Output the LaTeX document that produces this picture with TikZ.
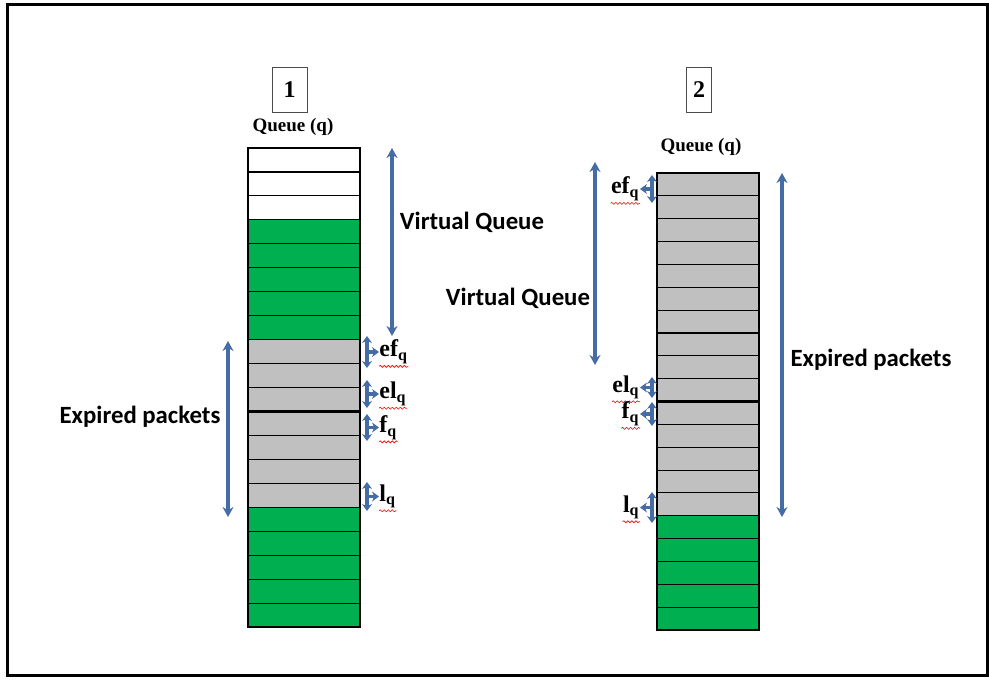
\documentclass[tikz,border=0pt]{standalone}
\usepackage{fontspec}
\setmainfont{Liberation Serif}
\newfontfamily\calibri{Carlito}
\usepackage{tikz}
\usetikzlibrary{arrows.meta, calc, decorations.pathmorphing}
\definecolor{qgreen}{RGB}{0, 176, 80}
\definecolor{qgray}{RGB}{192, 192, 192}
\definecolor{arrowblue}{RGB}{70, 108, 166}

\begin{document}
\begin{tikzpicture}[
    x=0.5pt, y=-0.5pt,
    cellone/.style={
        rectangle, draw, line width=0.55pt, inner sep=0pt, outer sep=0pt,
        anchor=north west, minimum width=56pt, minimum height=11.975pt
    },
    celltwo/.style={
        rectangle, draw, line width=0.55pt, inner sep=0pt, outer sep=0pt,
        anchor=north west, minimum width=51pt, minimum height=11.425pt
    },
    numbox/.style={draw=black!70, line width=0.5pt, minimum height=22.5pt, inner sep=0pt,
        font=\bfseries\fontsize{12}{14}\selectfont},
    qtitle/.style={font=\bfseries\fontsize{9.5}{11}\selectfont},
    bigtext/.style={font=\calibri\bfseries\fontsize{12.4}{14}\selectfont},
    ptrtext/.style={inner sep=0pt, font=\bfseries\fontsize{12}{14}\selectfont},
    span/.style={<->, >={Stealth[length=5pt, width=5.5pt]}, arrowblue, line width=1.9pt},
    ptr/.style={<->, >={Stealth[length=3.5pt, width=5pt]}, arrowblue, line width=1.7pt},
    tip/.style={->, >={Stealth[length=3.5pt, width=5pt]}, arrowblue, line width=1.9pt},
    spell/.style={red, line width=0.3pt, decorate,
        decoration={snake, amplitude=0.5pt, segment length=2pt}}
]

\useasboundingbox (0,0) rectangle (990,680);

% Frame
\draw[line width=1.5pt] (7,4) rectangle (987,675);

% Queue 1
\foreach \c [count=\i from 0] in {white,white,white,qgreen,qgreen,qgreen,qgreen,qgreen,
    qgray,qgray,qgray,qgray,qgray,qgray,qgray,qgreen,qgreen,qgreen,qgreen,qgreen}
    \node[cellone, fill=\c] (qa\i) at (248, 148+\i*23.95) {};
\draw[line width=1.3pt] (qa11.north west) rectangle (qa19.south east);

% Queue 2
\foreach \c [count=\i from 0] in {qgray,qgray,qgray,qgray,qgray,qgray,qgray,qgray,qgray,qgray,
    qgray,qgray,qgray,qgray,qgray,qgreen,qgreen,qgreen,qgreen,qgreen}
    \node[celltwo, fill=\c] (qb\i) at (657, 173+\i*22.85) {};
\draw[line width=1.3pt] (qb10.north west) rectangle (qb19.south east);

% Titles
\node[numbox, minimum width=17.5pt] (numa) at (289.5, 89.5) {1};
\node[numbox, minimum width=12.5pt] (numb) at (699, 90) {2};
\node[qtitle] (titlea) at (293, 127) {Queue (q)};
\node[qtitle] (titleb) at (701, 147) {Queue (q)};

% Labels
\node[bigtext] (vqa) at (472, 222) {Virtual Queue};
\node[bigtext] (vqb) at (518, 298) {Virtual Queue};
\node[bigtext] (expa) at (140, 417) {Expired packets};
\node[bigtext] (expb) at (871, 360) {Expired packets};

% Spans
\coordinate (vqatop) at (392, 148);
\coordinate (vqabot) at (392, 336);
\coordinate (expatop) at (228, 341);
\coordinate (expabot) at (228, 517);
\coordinate (vqbtop) at (595, 162);
\coordinate (vqbbot) at (595, 365);
\coordinate (expbtop) at (782, 173);
\coordinate (expbbot) at (782, 517);
\draw[span] (vqatop) -- (vqabot);
\draw[span] (expatop) -- (expabot);
\draw[span] (vqbtop) -- (vqbbot);
\draw[span] (expbtop) -- (expbbot);

% Pointers, queue 1
\foreach \nm/\lab/\ya/\yb in {efa/ef/336/368, ela/el/380/408, fa/f/414/441, la/l/482/511}{
    \coordinate (\nm-top) at (367, \ya);
    \coordinate (\nm-bot) at (367, \yb);
    \coordinate (\nm-mid) at (367, {(\ya+\yb)/2});
    \node[ptrtext, anchor=west] (\nm) at (379, {(\ya+\yb)/2}) {\lab\textsubscript{q}};
    \draw[ptr] (\nm-top) -- (\nm-bot);
    \draw[tip] (\nm-mid) -- (\nm.west);
    \draw[spell] ($(\nm.south west)+(0,2)$) -- ($(\nm.south east)+(0,2)$);
}

% Pointers, queue 2
\foreach \nm/\lab/\ya/\yb in {efb/ef/175/203, elb/el/377/398, fb/f/402/426, lb/l/492/523}{
    \coordinate (\nm-top) at (652, \ya);
    \coordinate (\nm-bot) at (652, \yb);
    \coordinate (\nm-mid) at (652, {(\ya+\yb)/2});
    \node[ptrtext, anchor=east] (\nm) at (640, {(\ya+\yb)/2}) {\lab\textsubscript{q}};
    \draw[ptr] (\nm-top) -- (\nm-bot);
    \draw[tip] (\nm-mid) -- (\nm.east);
    \draw[spell] ($(\nm.south west)+(0,2)$) -- ($(\nm.south east)+(0,2)$);
}

\end{tikzpicture}
\end{document}
